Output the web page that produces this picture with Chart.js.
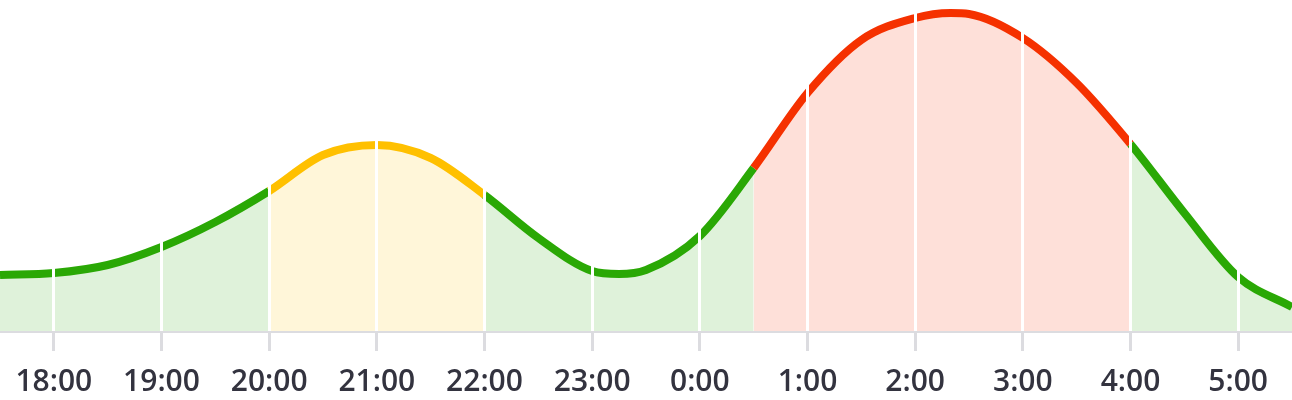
<!DOCTYPE html>
<html>
<head>
<meta charset="utf-8">
<script src="https://cdn.jsdelivr.net/npm/chart.js@4/dist/chart.umd.min.js"></script>
<style>
  html, body { margin: 0; padding: 0; background: #fff; }
  #wrap { width: 1292px; height: 400px; }
</style>
</head>
<body>
<div id="wrap"><canvas id="busyChart"></canvas></div>
<script>
// hour of day for each sample (after midnight counted as 24+)
let hours = [17.5, 18, 18.5, 19, 19.5, 20, 20.5, 21, 21.5, 22, 22.5, 23, 23.25, 23.5,
             24, 24.5, 25, 25.5, 26, 26.33, 26.5, 27, 27.5, 28, 28.5, 29, 29.5];
let values = [57, 59, 67, 85, 110, 141, 177, 187, 174, 137, 94, 61, 58, 62,
              96, 164, 239, 292, 314, 319, 318, 294, 249, 188, 119, 55, 25];

let tickHours = [18, 19, 20, 21, 22, 23, 24, 25, 26, 27, 28, 29];
let tickLabels = ['18:00', '19:00', '20:00', '21:00', '22:00', '23:00',
                  '0:00', '1:00', '2:00', '3:00', '4:00', '5:00'];

// coloured stretches: [from, to, colour]
let bands = [[20, 22, 'yellow'], [24.5, 28, 'red']];

let lineColors = { green: 'rgb(42,168,5)', yellow: 'rgb(255,192,0)', red: 'rgb(245,49,0)' };
let fillColors = { green: 'rgba(42,168,5,0.15)', yellow: 'rgba(255,192,0,0.15)', red: 'rgba(245,49,0,0.15)' };

function bandOf(x)
{
    for (let b of bands)
    {
        if (x >= b[0] && x < b[1]) return b[2];
    }
    return 'green';
}

const points = hours.map((h, i) => { return { x: h, y: values[i] } });

const data_graph = {
    datasets: [{
        data: points,
        borderWidth: 8,
        cubicInterpolationMode: 'monotone',
        pointRadius: 0,
        fill: 'origin',
        borderColor: lineColors.green,
        backgroundColor: fillColors.green,
        segment: {
            borderColor: ctx => lineColors[bandOf(ctx.p0.parsed.x)],
            backgroundColor: ctx => fillColors[bandOf(ctx.p0.parsed.x)]
        }
    }]
};

var config = {
    type: 'line',
    data: data_graph,
    options: {
        responsive: true,
        maintainAspectRatio: false,
        animation: false,
        layout: { padding: 0 },
        plugins: { legend: { display: false }, tooltip: { enabled: false } },
        scales: {
            x: {
                type: 'linear',
                min: 17.5,
                max: 29.5,
                afterBuildTicks: s => { s.ticks = tickHours.map(v => { return { value: v } }) },
                afterFit: s => { s.height = 68; },
                grid: { z: 1, color: '#ffffff', lineWidth: 3, tickColor: '#dcdce0', tickLength: 19, tickWidth: 3 },
                border: { z: 1, color: '#dcdce0', width: 2 },
                ticks: {
                    maxRotation: 0,
                    autoSkip: false,
                    padding: 13,
                    color: '#33333f',
                    font: { family: 'Open Sans', size: 30, weight: '600' },
                    callback: (v, i) => tickLabels[i]
                }
            },
            y: {
                display: false,
                min: 0,
                max: 332
            }
        }
    }
};

var busyChart = new Chart(document.getElementById('busyChart'), config);
</script>
</body>
</html>
